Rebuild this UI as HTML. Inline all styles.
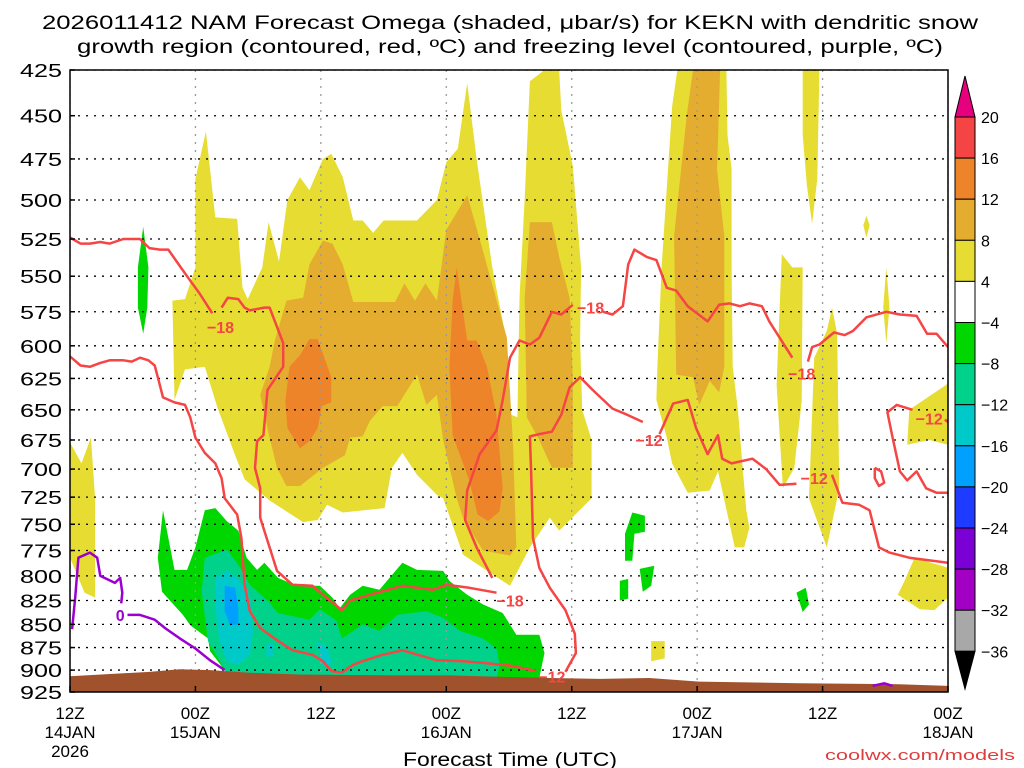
<!DOCTYPE html>
<html><head><meta charset="utf-8"><style>
html,body{margin:0;padding:0;background:#fff;}
svg{display:block;font-family:"Liberation Sans",sans-serif;}
</style></head><body>
<svg id="chart" width="1024" height="768" viewBox="0 0 1024 768" xmlns="http://www.w3.org/2000/svg">
<text x="510" y="29" font-size="19" text-anchor="middle" textLength="936" lengthAdjust="spacingAndGlyphs">2026011412 NAM Forecast Omega (shaded, μbar/s) for KEKN with dendritic snow</text>
<text x="510" y="53" font-size="19" text-anchor="middle" textLength="866" lengthAdjust="spacingAndGlyphs">growth region (contoured, red, ºC) and freezing level (contoured, purple, ºC)</text>
<g id="plot"></g>
<g id="axes"></g>
<g id="cbar"></g>
<text x="510" y="766" font-size="19" text-anchor="middle" textLength="214" lengthAdjust="spacingAndGlyphs">Forecast Time (UTC)</text>
<text x="1015" y="760" font-size="15" fill="#e03c3c" text-anchor="end" textLength="190" lengthAdjust="spacingAndGlyphs">coolwx.com/models</text>
</svg>
<script>
// ---- data ----
const pressureTicks=[425,450,475,500,525,550,575,600,625,650,675,700,725,750,775,800,825,850,875,900,925];
const timeTicks=[0,12,24,36,48,60,72,84];
const timeLabels1=["12Z","00Z","12Z","00Z","12Z","00Z","12Z","00Z"];
const timeLabels2=["14JAN","15JAN","","16JAN","","17JAN","","18JAN"];
const cbLevels=["20","16","12","8","4","−4","−8","−12","−16","−20","−24","−28","−32","−36"];
const cbColors=["#f54444","#ee842a","#e5ad2f","#e6dc32","#ffffff","#00d700","#00d28c","#00c9c9","#00a0ff","#1e3cff","#7a00d6","#a200c2","#a8a8a8"];
const colYellow="#e6dc32",colLtOrange="#e5ad2f",colOrange="#ee842a",colGreen="#00d700",colTeal="#00d28c",colCyan="#00c9c9",colBlue="#00a0ff";
// shaded regions: [hour, hPa]
const yellowRegions=[
[[0,677],[1.1,695],[2.0,673],[2.4,726],[2.4,822],[1.4,817],[0,782]],
[[9.8,567],[11.0,566],[12.0,544],[12.0,487],[13.0,459],[13.9,511],[16.0,512],[16.5,558],[17.0,566],[18.4,544],[19.0,514],[20.0,540],[20.8,500],[22.0,486],[22.9,494],[24.2,475],[25.0,472],[26.1,486],[27.1,513],[28.0,513],[29.0,521],[30.0,513],[33.2,513],[35.1,500],[36.0,477],[37.1,469],[38.0,432],[38.9,475],[40.4,544],[41.8,598],[42.2,654],[42.8,656],[43.0,565],[43.5,499],[44.0,431],[45.4,425],[46.8,425],[47.0,447],[48.1,479],[48.9,544],[48.8,596],[49.0,650],[49.9,675],[49.9,726],[46.8,756],[45.9,744],[44.0,772],[42.1,810],[40.2,797],[37.6,779],[35.7,726],[35.1,723],[33.2,705],[31.8,686],[30.8,699],[30.1,735],[26.1,739],[24.6,732],[23.7,746],[22.3,748],[19.1,728],[16.7,709],[15.8,688],[14.1,648],[12.9,616],[11.0,618],[10.0,642]],
[[58.1,425],[62.8,425],[62.9,461],[63.3,481],[63.3,544],[63.4,616],[63.9,650],[64.3,693],[64.7,737],[65.0,753],[64.5,772],[63.6,772],[62.0,702],[61.2,719],[59.1,721],[57.6,695],[57.1,673],[56.1,642],[56.2,616],[56.6,544],[57.6,445]],
[[70.1,425],[71.7,425],[71.5,487],[71.0,515],[70.5,491],[70.1,461]],
[[68.1,535],[69.1,544],[70.1,544],[70.0,643],[69.3,699],[68.2,717],[67.6,630]],
[[72.9,572],[73.4,591],[73.6,717],[72.4,772],[70.7,726],[71.2,609],[72.4,589]],
[[76.2,510],[76.5,516],[76.2,524],[75.9,516]],
[[78.1,544],[78.4,572],[78.1,598],[77.8,572]],
[[80.3,650],[84,629],[84,679],[82.2,675],[80.1,679]],
[[80.8,782],[84,792],[84,822],[82.7,835],[81.3,834],[79.2,819],[79.8,806]],
[[55.6,868],[56.9,868],[56.9,887],[55.6,890]]
];
const ltOrangeRegions=[
[[24.2,526],[25.1,528],[26.1,542],[27.1,568],[31.1,568],[32.0,555],[33.0,567],[34.0,555],[35.1,567],[36.0,519],[38.0,497],[38.9,518],[40.3,553],[41.8,594],[42.4,682],[42.7,772],[42.1,780],[39.5,775],[37.6,744],[37.0,726],[35.7,675],[35.1,638],[34.1,646],[33.2,622],[31.3,647],[29.9,647],[28.7,659],[28.0,672],[26.8,673],[26.3,688],[24.2,699],[22.0,715],[20.7,715],[19.8,699],[19.1,673],[18.5,650],[18.2,638],[19.1,616],[19.6,596],[20.7,567],[22.3,565],[22.9,542]],
[[44.0,514],[46.1,514],[46.8,537],[47.8,565],[48.1,624],[48.1,699],[46.1,699],[44.9,675],[43.7,656],[43.5,565]],
[[59.6,425],[62.2,425],[62.0,464],[61.9,481],[62.6,523],[62.6,616],[62.1,636],[61.2,627],[60.2,646],[59.6,624],[58.0,622],[57.8,523],[59.0,450]]
];
const orangeRegions=[
[[22.0,607],[22.9,595],[23.7,595],[25.0,624],[25.0,644],[24.1,647],[23.7,665],[22.9,676],[22.0,682],[20.8,665],[20.6,643],[21.0,616]],
[[37.0,544],[38.0,596],[38.9,596],[39.9,616],[40.8,654],[41.4,717],[41.1,738],[40.0,747],[39.0,741],[38.2,710],[36.6,671],[36.3,616],[36.6,567]]
];
const greenRegions=[
[[8.9,737],[10.0,794],[11.2,794],[12.0,772],[12.9,737],[13.9,735],[15.0,747],[16.1,756],[16.9,782],[17.9,794],[18.6,787],[19.9,802],[21.7,810],[23.9,810],[25.1,822],[25.8,833],[26.8,819],[28.0,810],[29.6,814],[31.8,787],[33.2,794],[35.7,795],[36.3,805],[38.0,819],[39.5,829],[41.4,838],[42.7,861],[44.9,861],[45.4,881],[44.9,909],[15.3,909],[14.8,900],[13.4,879],[13.2,865],[11.5,851],[10.8,840],[8.8,816],[8.4,782]],
[[7.0,517],[7.5,544],[7.4,572],[7.0,591],[6.5,572],[6.5,544]],
[[53.8,739],[55.0,742],[55.0,757],[54.0,759],[53.8,785],[53.1,785],[53.1,759]],
[[54.5,793],[55.9,790],[55.6,810],[54.8,816]],
[[52.6,805],[53.4,803],[53.4,823],[52.6,825]],
[[69.5,817],[70.4,812],[70.7,829],[70.1,837]]
];
const tealRegions=[
[[12.9,782],[15.0,774],[16.1,789],[17.2,809],[18.9,825],[19.9,838],[22.9,845],[23.9,834],[25.5,846],[26.0,865],[27.1,857],[28.0,850],[29.6,857],[31.3,840],[34.1,836],[35.7,843],[37.3,857],[39.5,865],[40.8,876],[41.1,894],[40.8,909],[15.3,909],[13.2,868],[12.6,816]]
];
const cyanRegions=[
[[13.9,802],[15.0,795],[16.0,802],[17.2,819],[17.5,857],[17.2,883],[16.1,894],[15.0,890],[14.3,868],[13.9,833]],
[[18.8,871],[19.4,871],[19.4,885],[18.8,885]],
[[23.6,868],[24.6,874],[25.1,894],[24.1,895]]
];
const blueRegions=[
[[14.8,810],[15.8,812],[16.1,833],[16.1,850],[15.3,851],[14.8,836]]
];
const groundHours=[0,3,7.6,10.5,13.4,17.2,22,31.5,36.3,45.9,50.7,55.4,60.2,69.8,79.3,84];
const groundPres=[907,905,902,899,900,903,905,906,906,909,910,909,913,915,916,918];
// contours
const redLines=[
[[0,524],[1.0,528],[1.9,528],[2.9,527],[3.8,528],[5.1,525],[6.7,525],[7.6,531],[8.6,532],[9.4,532],[10.3,541],[11.3,551],[12.4,562],[13.6,576]],
[[14.5,572],[15.1,565],[16.1,566],[16.7,572],[17.2,574],[18.6,572],[19.1,572],[20.4,598],[20.4,616],[18.9,634],[18.5,671],[17.9,676],[17.7,699],[18.2,717],[18.2,744],[19.1,772],[19.8,795],[21.3,809],[23.2,810],[24.2,819],[26.0,835],[26.8,825],[28.7,819],[31.8,810],[34.7,814],[36.0,809],[38.2,812],[40.8,817]],
[[40.4,802],[38.9,772],[37.8,746],[38.0,719],[39.2,687],[40.8,667],[41.4,642],[42.1,609],[43.0,596],[44.0,599],[44.9,594],[46.1,575],[47.0,577],[48.1,570]],
[[51.0,575],[51.9,577],[52.9,571],[53.4,542],[54.0,532],[55.2,537],[56.1,539],[57.1,558],[58.0,560],[59.1,571],[61.0,582],[62.1,570],[63.1,569],[64.1,571],[65.0,569],[66.2,571],[66.9,582],[69.1,609]],
[[70.6,612],[71.0,601],[71.7,599],[73.1,590],[74.1,592],[74.9,589],[76.2,579],[78.1,575],[79.4,577],[81.0,578],[82.0,591],[82.9,591],[84,601]],
[[0,608],[1.0,615],[1.9,616],[2.9,613],[3.8,611],[5.1,611],[5.9,612],[6.7,609],[7.5,611],[8.1,615],[8.4,624],[8.9,640],[10.0,644],[11.0,646],[11.5,656],[12.0,673],[12.9,686],[13.9,695],[14.5,708],[14.8,726],[16.0,741],[16.4,763],[16.7,809],[17.2,836],[18.2,854],[19.8,867],[21.3,878],[23.2,883],[24.2,890],[25.0,901],[26.0,903],[27.1,894],[28.0,890],[29.9,883],[31.8,878],[35.1,889],[37.6,890],[39.5,892],[42.1,895],[44.6,901]],
[[47.4,902],[48.4,881],[48.3,860],[47.4,835],[45.9,812],[44.9,792],[44.3,763],[44.1,699],[44.0,672],[44.9,670],[46.1,668],[47.0,654],[47.8,632],[48.8,624],[50.0,634],[51.9,649],[53.3,654],[54.8,660]],
[[56.4,670],[57.7,645],[59.1,642],[59.9,665],[61.0,687],[62.0,671],[62.4,691],[63.3,695],[65.3,691],[66.6,700],[67.9,714],[69.5,713]],
[[72.9,705],[73.9,730],[75.5,732],[76.5,737],[77.4,772],[78.4,777],[80.3,782],[84,787]],
[[80.6,650],[79.1,646],[78.2,652],[78.7,673],[79.4,702],[80.1,710],[81.0,702],[81.9,717],[82.9,721],[84,721]],
[[83.7,658],[84,660]],
[[77.0,699],[77.6,702],[77.9,712],[77.4,715],[77.0,708],[77.0,699]]
];
const redLabels=[["−18",14.4,586],["−18",42.1,825],["−18",49.8,572],["−18",70.0,621],["−12",46.1,907],["−12",55.4,675],["−12",71.2,708],["−12",82.2,657]];
const purpleLines=[
[[0.2,855],[0.5,822],[0.8,782],[1.9,777],[2.6,782],[2.9,800],[4.3,807],[4.8,802],[5.0,817],[4.9,828]],
[[5.5,840],[6.7,840],[8.1,845],[9.1,854],[10.5,865],[12.0,876],[13.4,889],[14.8,900]],
[[76.8,918],[77.9,915],[78.7,918]]
];
const purpleLabels=[["0",4.8,840]];

// ---- scales ----
const X0=70,X1=948,Y0=70,Y1=692,P0=425,P1=925,H0=0,H1=84;
function xs(h){return X0+(h-H0)/(H1-H0)*(X1-X0);}
function ys(p){return Y0+Math.log(p/P0)/Math.log(P1/P0)*(Y1-Y0);}
const NS="http://www.w3.org/2000/svg";
function mk(tag,attrs,parent){const e=document.createElementNS(NS,tag);for(const k in attrs)e.setAttribute(k,attrs[k]);parent.appendChild(e);return e;}
function pts(arr){return arr.map(d=>xs(d[0]).toFixed(1)+","+ys(d[1]).toFixed(1)).join(" ");}
const plot=document.getElementById("plot"),axes=document.getElementById("axes"),cbar=document.getElementById("cbar");
const clip=mk("clipPath",{id:"pc"},plot);mk("rect",{x:X0,y:Y0,width:X1-X0,height:Y1-Y0},clip);
const g=mk("g",{"clip-path":"url(#pc)"},plot);
function drawRegions(list,color,name){list.forEach(r=>{const e=mk("polygon",{points:pts(r),fill:color},g);

});}
drawRegions(yellowRegions,colYellow,"omega-4-8");
drawRegions(ltOrangeRegions,colLtOrange,"omega-8-12");
drawRegions(orangeRegions,colOrange,"omega-12-16");
drawRegions(greenRegions,colGreen,"omega-neg4-neg8");
drawRegions(tealRegions,colTeal,"omega-neg8-neg12");
drawRegions(cyanRegions,colCyan,"omega-neg12-neg16");
drawRegions(blueRegions,colBlue,"omega-neg16-neg20");
// grid
pressureTicks.forEach(p=>{const l=mk("line",{x1:X0,x2:X1,y1:ys(p),y2:ys(p),stroke:"#000","stroke-width":1.3,"stroke-dasharray":"2 6"},g);

});
timeTicks.forEach(h=>{const l=mk("line",{x1:xs(h),x2:xs(h),y1:Y0,y2:Y1,stroke:"#999","stroke-width":1.3,"stroke-dasharray":"2 6"},g);

});
// ground
const gp=[[groundHours[0],P1+20]].concat(groundHours.map((h,i)=>[h,groundPres[i]])).concat([[groundHours[groundHours.length-1],P1+20]]);
const gr=mk("polygon",{points:pts(gp),fill:"#a0522d"},g);


// contours
function drawLines(list,color,name){list.forEach(r=>{const e=mk("polyline",{points:pts(r),fill:"none",stroke:color,"stroke-width":2.5,"stroke-linejoin":"round"},g);

});}
drawLines(redLines,"#f54545","dgz-contour");
drawLines(purpleLines,"#9b00d0","freezing-level-contour");
function drawLabels(list,color,name){list.forEach(d=>{const t=mk("text",{x:xs(d[1]),y:ys(d[2])+6,"font-size":16,"font-weight":"bold",fill:color,"text-anchor":"middle"},g);t.textContent=d[0];

});}
drawLabels(redLabels,"#f54545","dgz-contour-label");
drawLabels(purpleLabels,"#9b00d0","freezing-contour-label");
// axes
const fr=mk("rect",{x:X0,y:Y0,width:X1-X0,height:Y1-Y0,fill:"none",stroke:"#000","stroke-width":1.5},axes);


pressureTicks.forEach(p=>{const t=mk("text",{x:62,y:ys(p)+7,"font-size":18,"text-anchor":"end",textLength:42,lengthAdjust:"spacingAndGlyphs"},axes);t.textContent=p;


mk("line",{x1:X0,x2:X0+5,y1:ys(p),y2:ys(p),stroke:"#000","stroke-width":1.5},axes);});
timeTicks.forEach((h,i)=>{mk("line",{x1:xs(h),x2:xs(h),y1:Y1,y2:Y1-6,stroke:"#000","stroke-width":1.5},axes);
const t=mk("text",{x:xs(h),y:719,"font-size":17,"text-anchor":"middle"},axes);t.textContent=timeLabels1[i];


if(timeLabels2[i]){const t2=mk("text",{x:xs(h),y:738,"font-size":17,"text-anchor":"middle"},axes);t2.textContent=timeLabels2[i];

}});
const yr=mk("text",{x:xs(0),y:757,"font-size":17,"text-anchor":"middle"},axes);yr.textContent="2026";


// colorbar
const CBX=955,CBW=20,CBT=117,CBH=41.1;
const tri=mk("polygon",{points:`${CBX},${CBT} ${CBX+CBW},${CBT} ${CBX+CBW/2},76`,fill:"#e6007e",stroke:"#000","stroke-width":1},cbar);


cbColors.forEach((c,i)=>{const r=mk("rect",{x:CBX,y:CBT+i*CBH,width:CBW,height:CBH,fill:c,stroke:"#000","stroke-width":1},cbar);

});
const tb=CBT+cbColors.length*CBH;
const tri2=mk("polygon",{points:`${CBX},${tb} ${CBX+CBW},${tb} ${CBX+CBW/2},689`,fill:"#000",stroke:"#000","stroke-width":1},cbar);


cbLevels.forEach((s,i)=>{const t=mk("text",{x:981,y:CBT+i*CBH+6,"font-size":16},cbar);t.textContent=s;

});
</script>
</body></html>
